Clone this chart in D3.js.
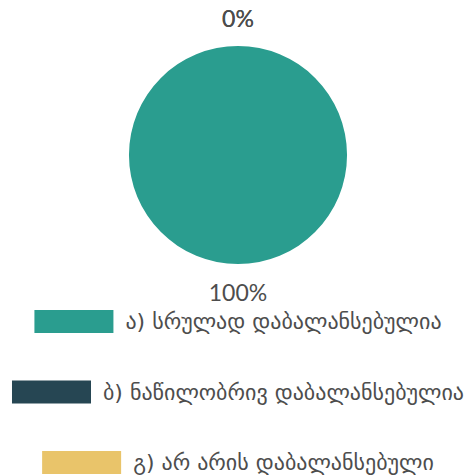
<!DOCTYPE html>
<html>
<head>
<meta charset="utf-8">
<script src="https://cdn.jsdelivr.net/npm/d3@7"></script>
<style>
  html, body { margin: 0; padding: 0; background: #ffffff; }
  svg { display: block; }
</style>
</head>
<body>
<svg id="chart" width="468" height="475"></svg>
<script>
// Answer categories and their shares (%)
const categories = [
  "ა) სრულად დაბალანსებულია",
  "ბ) ნაწილობრივ დაბალანსებულია",
  "გ) არ არის დაბალანსებული"
];
const shares = [100, 0, 0];
const colors = ["#2a9d8f", "#264653", "#e9c46a"];

const svg = d3.select("#chart");
const cx = 238, cy = 155, radius = 109, labelRadius = 137;
const textColor = "#4d4d4d";

const data = categories.map((c, i) => ({ name: c, value: shares[i], color: colors[i] }));

const pie = d3.pie().value(d => d.value).sort(null);
const arcs = pie(data);
const arc = d3.arc().innerRadius(0).outerRadius(radius);
const labelArc = d3.arc().innerRadius(labelRadius).outerRadius(labelRadius);

const g = svg.append("g").attr("transform", `translate(${cx},${cy})`);

g.selectAll("path.slice")
  .data(arcs)
  .join("path")
  .attr("class", "slice")
  .attr("d", arc)
  .attr("fill", d => d.data.color);

g.selectAll("text.pct")
  .data(arcs)
  .join("text")
  .attr("class", "pct")
  .attr("transform", d => `translate(${labelArc.centroid(d)})`)
  .attr("text-anchor", "middle")
  .attr("dominant-baseline", "central")
  .attr("font-family", "Lato, sans-serif")
  .attr("font-size", 23)
  .attr("fill", textColor)
  .text(d => `${d.data.value}%`);

// Legend: one centred row per category
const legendTop = 310, rowGap = 70.5, swW = 79, swH = 23, gap = 12;
const rows = svg.append("g").selectAll("g.row")
  .data(data)
  .join("g")
  .attr("class", "row");

rows.each(function(d, i) {
  const row = d3.select(this);
  const y = legendTop + i * rowGap;
  const t = row.append("text")
    .attr("y", y + swH / 2)
    .attr("dominant-baseline", "central")
    .attr("font-family", "'DejaVu Sans', sans-serif")
    .attr("font-size", 22)
    .attr("fill", textColor)
    .text(d.name);
  const tw = t.node().getComputedTextLength();
  const x0 = cx - (swW + gap + tw) / 2;
  row.insert("rect", "text")
    .attr("x", x0)
    .attr("y", y)
    .attr("width", swW)
    .attr("height", swH)
    .attr("fill", d.color);
  t.attr("x", x0 + swW + gap);
});
</script>
</body>
</html>
